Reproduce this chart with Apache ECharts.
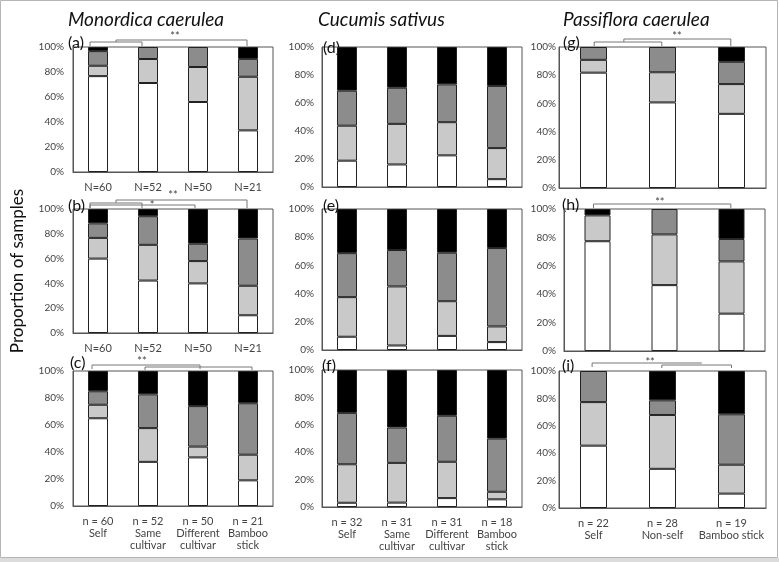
<!DOCTYPE html>
<html>
<head>
<meta charset="utf-8">
<script src="https://cdn.jsdelivr.net/npm/echarts@6/dist/echarts.min.js"></script>
<style>
  html, body { margin: 0; padding: 0; background: #fff; }
  #chart { width: 779px; height: 562px; }
</style>
</head>
<body>
<div id="chart"></div>
<script>
// column titles and panel letters
const speciesTitles = ["Monordica caerulea", "Cucumis sativus", "Passiflora caerulea"];
const panelLetters = ["(a)", "(b)", "(c)", "(d)", "(e)", "(f)", "(g)", "(h)", "(i)"];

// category labels
const labelsAB = ["N=60", "N=52", "N=50", "N=21"];
const labelsC = ["n = 60\nSelf", "n = 52\nSame\ncultivar", "n = 50\nDifferent\ncultivar", "n = 21\nBamboo\nstick"];
const labelsF = ["n = 32\nSelf", "n = 31\nSame\ncultivar", "n = 31\nDifferent\ncultivar", "n = 18\nBamboo\nstick"];
const labelsI = ["n = 22\nSelf", "n = 28\nNon-self", "n = 19\nBamboo stick"];
const yTicks = [0, 20, 40, 60, 80, 100];

// segment shares (%) per panel, rows: white, light grey, dark grey, black
const panelA = [[76.7, 71.2, 56, 33.3], [8.3, 19.2, 28, 42.9], [11.7, 9.6, 16, 14.3], [3.3, 0, 0, 9.5]];
const panelB = [[60, 42.3, 40, 14.3], [16.7, 28.8, 18, 23.8], [11.7, 23.1, 14, 38.1], [11.6, 5.8, 28, 23.8]];
const panelC = [[65, 32.7, 36, 19], [10, 25, 8, 19], [10, 25, 30, 38.1], [15, 17.3, 26, 23.9]];
const panelD = [[18.8, 16.1, 22.6, 5.6], [25, 29, 23.7, 22.2], [25, 25.8, 27, 44.4], [31.2, 29.1, 26.7, 27.8]];
const panelE = [[9.4, 3.2, 10, 5.6], [28.1, 41.9, 24.6, 11.1], [31.2, 25.8, 34.4, 55.6], [31.3, 29.1, 31, 27.7]];
const panelF = [[3.1, 3.2, 6.5, 5.6], [28.1, 29, 26.5, 5.5], [37.5, 25.8, 33.6, 38.8], [31.3, 42, 33.4, 50.1]];
const panelG = [[81.8, 60.7, 52.6], [9.1, 21.4, 21.1], [9.1, 17.9, 15.8], [0, 0, 10.5]];
const panelH = [[77.3, 46.4, 26.3], [18.2, 35.7, 36.8], [0, 17.9, 15.8], [4.5, 0, 21.1]];
const panelI = [[45.5, 28.6, 10.5], [31.8, 39.3, 21.1], [22.7, 10.7, 36.8], [0, 21.4, 31.6]];

// significance brackets: [panel, fromCat, toCat, lift above plot, left drop, right drop]
const brackets = [
  [0, -0.16, 0.88, 5, 4, 4], [0, 0.36, 2.98, 7, 2, 6],
  [1, 0.36, 2.98, 9, 3, 8], [1, -0.16, 0.88, 6, 5, 5], [1, -0.16, 1.94, 4, 3, 3],
  [2, -0.12, 2.04, 6, 4, 4], [2, 0.94, 3.08, 4, 3, 3],
  [6, 0.01, 0.99, 5, 4, 4], [6, 0.44, 1.99, 8, 3, 7],
  [7, -0.06, 1.99, 5, 4, 4],
  [8, -0.02, 1.57, 8, 4, 0], [8, 0.99, 2.0, 6, 3, 3],
];
// significance marks: [panel, cat position, lift, text]
const stars = [[0, 1.54, 11, "**"], [1, 1.5, 14, "**"], [1, 1.08, 4, "*"], [2, 0.88, 10, "**"],
  [6, 1.21, 11, "**"], [7, 0.93, 7, "**"], [8, 0.82, 9, "**"]];

const segColors = ["#ffffff", "#c9c9c9", "#8c8c8c", "#000000"];
const font = "Lato";

const panels = [
  { grid: { left: 73, top: 47, width: 200, height: 125 }, cats: labelsAB, showX: true, data: panelA, bw: 20, lm: 9 },
  { grid: { left: 73, top: 209, width: 200, height: 124 }, cats: labelsAB, showX: true, data: panelB, bw: 20, lm: 9 },
  { grid: { left: 73, top: 371, width: 200, height: 135 }, cats: labelsC, showX: true, data: panelC, bw: 20, lm: 9 },
  { grid: { left: 322, top: 47, width: 200, height: 140 }, cats: labelsF, showX: false, data: panelD, bw: 20, lm: 8 },
  { grid: { left: 322, top: 209, width: 200, height: 141 }, cats: labelsF, showX: false, data: panelE, bw: 20, lm: 8 },
  { grid: { left: 322, top: 370, width: 200, height: 137 }, cats: labelsF, showX: true, data: panelF, bw: 20, lm: 8 },
  { grid: { left: 559, top: 47, width: 207, height: 141 }, cats: labelsI, showX: false, data: panelG, bw: 27, lm: 3 },
  { grid: { left: 564, top: 209, width: 201, height: 142 }, cats: labelsI, showX: false, data: panelH, bw: 26, lm: 8 },
  { grid: { left: 559, top: 371, width: 207, height: 137 }, cats: labelsI, showX: true, data: panelI, bw: 27, lm: 3 },
];

const chart = echarts.init(document.getElementById("chart"), null, { renderer: "canvas" });

const series = [];
panels.forEach((p, i) => {
  p.data.forEach((row, k) => {
    series.push({
      type: "bar",
      xAxisIndex: i,
      yAxisIndex: i,
      stack: "s" + i,
      barWidth: p.bw,
      data: row.map(v => (v === 0 ? null : v)),
      itemStyle: { color: segColors[k], borderColor: "#222", borderWidth: 1 },
      emphasis: { disabled: true },
    });
  });
});

const options = {
  animation: false,
  backgroundColor: "#fff",
  grid: panels.map(p => ({ ...p.grid, show: true, borderColor: "#555", borderWidth: 1 })),
  xAxis: panels.map((p, i) => ({
    type: "category",
    gridIndex: i,
    data: p.cats,
    axisTick: { show: false },
    axisLine: { lineStyle: { color: "#555" } },
    axisLabel: {
      show: p.showX,
      interval: 0,
      margin: 9,
      fontFamily: font,
      fontSize: 11,
      lineHeight: 12,
      color: "#444",
    },
  })),
  yAxis: panels.map((p, i) => ({
    type: "value",
    gridIndex: i,
    min: yTicks[0],
    max: yTicks[yTicks.length - 1],
    interval: yTicks[1] - yTicks[0],
    splitLine: { show: false },
    axisTick: { show: false },
    axisLine: { show: true, lineStyle: { color: "#555" } },
    axisLabel: { fontFamily: font, fontSize: 10, color: "#444", margin: p.lm, formatter: "{value}%" },
  })),
  series: series,
};

chart.setOption(options);

// annotations placed from the axes
const xAt = (i, pos) => {
  const x0 = chart.convertToPixel({ xAxisIndex: i }, 0);
  const x1 = chart.convertToPixel({ xAxisIndex: i }, 1);
  return x0 + pos * (x1 - x0);
};
const yTop = i => chart.convertToPixel({ yAxisIndex: i }, yTicks[yTicks.length - 1]);

const graphics = [];
graphics.push({
  type: "rect", silent: true,
  shape: { x: 0.5, y: 0.5, width: 777, height: 557 },
  style: { fill: "none", stroke: "#b5b5b5", lineWidth: 1 },
});
graphics.push({
  type: "rect", silent: true,
  shape: { x: 0, y: 558, width: 779, height: 4 },
  style: { fill: "#dcdcdc" },
});

const titleX = [68, 318, 563];
speciesTitles.forEach((t, c) => {
  graphics.push({
    type: "text", x: titleX[c], y: 20,
    style: { text: t, fontFamily: font, fontStyle: "italic", fontSize: 19, fill: "#111", verticalAlign: "middle" },
  });
});

const letterPos = [[68, 43], [68, 206], [70, 363], [323, 48], [323, 206], [322, 366], [563, 43], [562, 205], [562, 366]];
panelLetters.forEach((t, i) => {
  graphics.push({
    type: "text", x: letterPos[i][0], y: letterPos[i][1],
    style: { text: t, fontFamily: font, fontSize: 16, fill: "#111", verticalAlign: "middle" },
  });
});

graphics.push({
  type: "text", x: 18, y: 271, rotation: Math.PI / 2,
  style: { text: "Proportion of samples", fontFamily: font, fontSize: 17, fill: "#111", align: "center", verticalAlign: "middle" },
});

brackets.forEach(([i, a, b, lift, dl, dr]) => {
  const y = yTop(i) - lift;
  const x1 = xAt(i, a);
  const x2 = xAt(i, b);
  graphics.push({
    type: "polyline", silent: true,
    shape: { points: [[x1, y + dl], [x1, y], [x2, y], [x2, y + dr]] },
    style: { stroke: "#777", lineWidth: 1, fill: "none" },
  });
});

stars.forEach(([i, pos, lift, t]) => {
  graphics.push({
    type: "text", x: xAt(i, pos), y: yTop(i) - lift,
    style: { text: t, fontFamily: font, fontSize: 11, fill: "#444", align: "center", verticalAlign: "middle" },
  });
});

chart.setOption({ graphic: graphics });
</script>
</body>
</html>
